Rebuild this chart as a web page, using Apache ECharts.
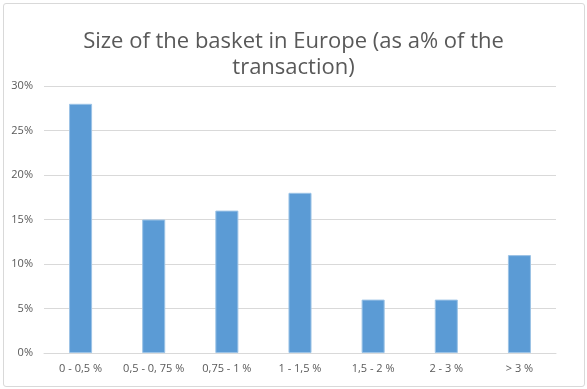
<!DOCTYPE html>
<html>
<head>
<meta charset="utf-8">
<script src="https://cdn.jsdelivr.net/npm/echarts@6/dist/echarts.min.js"></script>
<style>
html,body{margin:0;padding:0;background:#fff;}
#frame{position:absolute;left:3px;top:3px;width:582px;height:384px;border:1px solid #d9d9d9;border-radius:3px;box-sizing:border-box;}
#chart{position:absolute;left:0;top:0;width:587px;height:389px;}
</style>
</head>
<body>
<div id="frame"></div>
<div id="chart"></div>
<script>
var categories = ["0 - 0,5 %", "0,5 - 0, 75 %", "0,75 - 1 %", "1 - 1,5 %", "1,5 - 2 %", "2 - 3 %", "> 3 %"];
var values = [28, 15, 16, 18, 6, 6, 11];
var titleText = "Size of the basket in Europe (as a% of the\ntransaction)";

var chart = echarts.init(document.getElementById('chart'), null, {renderer: 'canvas'});
chart.setOption({
  animation: false,
  title: {
    text: titleText,
    left: 'center',
    top: 24,
    textStyle: {
      fontFamily: 'Open Sans',
      fontWeight: 'normal',
      fontSize: 22,
      color: '#595959',
      lineHeight: 26
    }
  },
  grid: {left: 44, right: 31, top: 86, bottom: 36, containLabel: false},
  xAxis: {
    type: 'category',
    data: categories,
    axisLine: {lineStyle: {color: '#d9d9d9'}},
    axisTick: {show: false},
    axisLabel: {color: '#595959', fontSize: 11, fontFamily: 'Open Sans', margin: 10, interval: 0}
  },
  yAxis: {
    type: 'value',
    min: 0,
    max: 30,
    interval: 5,
    axisLine: {show: false},
    axisTick: {show: false},
    axisLabel: {color: '#595959', fontSize: 11, fontFamily: 'Open Sans', margin: 11, formatter: '{value}%'},
    splitLine: {lineStyle: {color: '#d9d9d9'}}
  },
  series: [{
    type: 'bar',
    data: values,
    barWidth: '31.5%',
    itemStyle: {color: '#5b9bd5', borderColor: '#9cc3e6', borderWidth: 1}
  }]
});
</script>
</body>
</html>
